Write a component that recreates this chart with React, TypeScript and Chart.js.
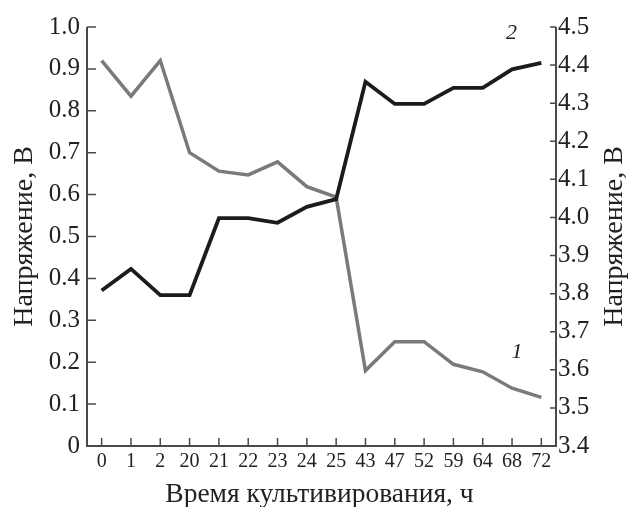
import React, { useEffect, useRef } from "react";
import { Chart, registerables } from "chart.js";

Chart.register(...registerables);

const categories = ["0", "1", "2", "20", "21", "22", "23", "24", "25", "43", "47", "52", "59", "64", "68", "72"];
const series1 = [0.92, 0.835, 0.92, 0.70, 0.656, 0.647, 0.678, 0.619, 0.594, 0.18, 0.249, 0.249, 0.195, 0.177, 0.138, 0.116];
const series2 = [3.808, 3.865, 3.796, 3.796, 3.998, 3.998, 3.986, 4.028, 4.048, 4.356, 4.298, 4.298, 4.34, 4.34, 4.389, 4.406];
const leftTicks = [0, 0.1, 0.2, 0.3, 0.4, 0.5, 0.6, 0.7, 0.8, 0.9, 1.0];
const rightTicks = [3.4, 3.5, 3.6, 3.7, 3.8, 3.9, 4.0, 4.1, 4.2, 4.3, 4.4, 4.5];
const yTitle = "Напряжение, В";
const xTitle = "Время культивирования, ч";
const seriesLabels = [
  { text: "2", xIndex: 13.98, axis: "yR", value: 4.483 },
  { text: "1", xIndex: 14.17, axis: "yL", value: 0.224 },
];

const FONT = "'Liberation Serif', 'DejaVu Serif', serif";
const AXIS_COLOR = "#4a4a4a";
const TEXT_COLOR = "#222";

const axesPlugin = {
  id: "inwardAxes",
  afterDraw(chart: any) {
    const { ctx, chartArea, width } = chart;
    const x = chart.scales.x;
    const yL = chart.scales.yL;
    const yR = chart.scales.yR;
    ctx.save();
    ctx.strokeStyle = AXIS_COLOR;
    ctx.lineWidth = 2;
    ctx.beginPath();
    ctx.moveTo(chartArea.left, chartArea.top);
    ctx.lineTo(chartArea.left, chartArea.bottom);
    ctx.lineTo(chartArea.right, chartArea.bottom);
    ctx.lineTo(chartArea.right, chartArea.top);
    ctx.stroke();
    ctx.lineWidth = 1.5;
    ctx.beginPath();
    x.ticks.forEach((_t: any, i: number) => {
      const px = x.getPixelForTick(i);
      ctx.moveTo(px, chartArea.bottom);
      ctx.lineTo(px, chartArea.bottom - 8);
    });
    yL.ticks.forEach((_t: any, i: number) => {
      const py = yL.getPixelForTick(i);
      ctx.moveTo(chartArea.left, py);
      ctx.lineTo(chartArea.left + 9, py);
    });
    yR.ticks.forEach((_t: any, i: number) => {
      const py = yR.getPixelForTick(i);
      ctx.moveTo(chartArea.right, py);
      ctx.lineTo(chartArea.right - 6, py);
    });
    ctx.stroke();

    ctx.fillStyle = TEXT_COLOR;
    ctx.font = `italic 22px ${FONT}`;
    ctx.textAlign = "center";
    ctx.textBaseline = "middle";
    seriesLabels.forEach((l) => {
      const sc = chart.scales[l.axis];
      ctx.fillText(l.text, x.getPixelForValue(l.xIndex), sc.getPixelForValue(l.value));
    });

    // axis titles
    ctx.textAlign = "center";
    ctx.textBaseline = "alphabetic";
    ctx.font = `27.5px ${FONT}`;
    const cx = (chartArea.left + chartArea.right) / 2 - 2;
    ctx.fillText(xTitle, cx, 502);
    ctx.font = `28px ${FONT}`;
    const cy = (chartArea.top + chartArea.bottom) / 2;
    const drawVertical = (bx: number) => {
      ctx.save();
      ctx.translate(bx, cy);
      ctx.rotate(-Math.PI / 2);
      ctx.fillText(yTitle, 0, 0);
      ctx.restore();
    };
    drawVertical(32);
    drawVertical(width - 7);
    ctx.restore();
  },
};

export default function App() {
  const ref = useRef<HTMLCanvasElement | null>(null);
  useEffect(() => {
    if (!ref.current) return;
    const chart = new Chart(ref.current, {
      type: "line",
      data: {
        labels: categories,
        datasets: [
          {
            label: "2",
            data: series2,
            yAxisID: "yR",
            borderColor: "#1c1c1c",
            borderWidth: 3.8,
            pointRadius: 0,
            tension: 0,
          },
          {
            label: "1",
            data: series1,
            yAxisID: "yL",
            borderColor: "#7a7a7a",
            borderWidth: 3.5,
            pointRadius: 0,
            tension: 0,
          },
        ],
      },
      options: {
        animation: false,
        responsive: true,
        maintainAspectRatio: false,
        layout: { padding: { top: 27, left: 0, right: 0, bottom: 0 } },
        plugins: { legend: { display: false }, tooltip: { enabled: false } },
        scales: {
          x: {
            type: "category",
            offset: true,
            grid: { display: false, drawTicks: false },
            border: { display: false },
            ticks: { color: TEXT_COLOR, font: { family: FONT, size: 20 }, padding: 4, maxRotation: 0, autoSkip: false },
            afterFit: (s: any) => { s.height = 61; },
          },
          yL: {
            type: "linear",
            position: "left",
            min: 0,
            max: 1,
            afterBuildTicks: (s: any) => { s.ticks = leftTicks.map((v) => ({ value: v })); },
            grid: { display: false, drawTicks: false },
            border: { display: false },
            ticks: {
              color: TEXT_COLOR,
              font: { family: FONT, size: 25 },
              padding: 7,
              callback: (v: any) => (v === 0 ? "0" : Number(v).toFixed(1)),
            },
            afterFit: (s: any) => { s.width = 87; },
          },
          yR: {
            type: "linear",
            position: "right",
            min: 3.4,
            max: 4.5,
            afterBuildTicks: (s: any) => { s.ticks = rightTicks.map((v) => ({ value: v })); },
            grid: { display: false, drawTicks: false },
            border: { display: false },
            ticks: {
              color: TEXT_COLOR,
              font: { family: FONT, size: 25 },
              padding: 2,
              callback: (v: any) => Number(v).toFixed(1),
            },
            afterFit: (s: any) => { s.width = 73; },
          },
        },
      },
      plugins: [axesPlugin],
    });
    return () => chart.destroy();
  }, []);
  return (
    <div style={{ position: "absolute", left: 0, top: 0, width: 629, height: 507, background: "#fff" }}>
      <canvas ref={ref} />
    </div>
  );
}
